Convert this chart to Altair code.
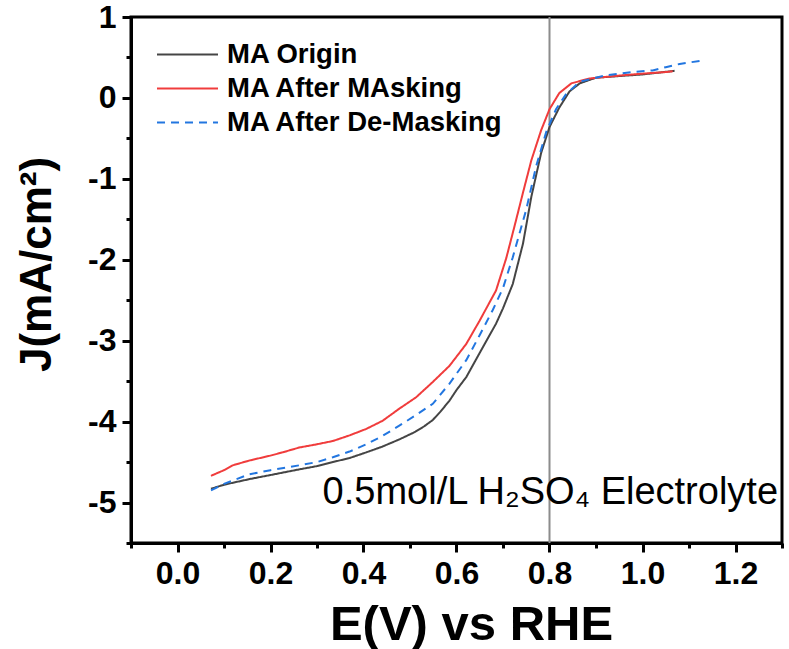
import altair as alt
import pandas as pd

series_names = ["MA Origin", "MA After MAsking", "MA After De-Masking"]
series_colors = ["#454545", "#f03c3c", "#2276e0"]
series_dashes = [[1, 0], [1, 0], [8, 6]]

origin_e = [0.072, 0.10, 0.155, 0.20, 0.262, 0.30, 0.334, 0.37, 0.406, 0.44, 0.477, 0.51, 0.53, 0.549,
            0.565, 0.585, 0.60, 0.621, 0.649, 0.685, 0.70, 0.721, 0.743, 0.761, 0.782, 0.80, 0.821,
            0.843, 0.865, 0.90, 0.95, 1.00, 1.069]
origin_j = [-4.83, -4.78, -4.71, -4.66, -4.59, -4.55, -4.50, -4.45, -4.38, -4.31, -4.22, -4.13, -4.06, -3.98,
            -3.88, -3.74, -3.61, -3.45, -3.16, -2.79, -2.60, -2.30, -1.80, -1.22, -0.68, -0.36, -0.12,
            0.08, 0.18, 0.25, 0.27, 0.29, 0.335]

masking_e = [0.072, 0.10, 0.119, 0.155, 0.20, 0.226, 0.262, 0.30, 0.334, 0.37, 0.406, 0.441, 0.477,
             0.513, 0.549, 0.585, 0.621, 0.649, 0.685, 0.707, 0.725, 0.743, 0.761, 0.782, 0.80,
             0.821, 0.847, 0.886, 0.958, 1.00, 1.051, 1.065]
masking_j = [-4.67, -4.60, -4.54, -4.48, -4.42, -4.38, -4.32, -4.28, -4.24, -4.17, -4.09, -3.99, -3.84,
             -3.70, -3.51, -3.31, -3.04, -2.76, -2.38, -1.98, -1.58, -1.17, -0.77, -0.40, -0.14,
             0.06, 0.18, 0.24, 0.28, 0.30, 0.32, 0.33]

demask_e = [0.072, 0.10, 0.155, 0.20, 0.262, 0.30, 0.334, 0.37, 0.406, 0.44, 0.477, 0.51, 0.549,
            0.585, 0.621, 0.65, 0.678, 0.70, 0.721, 0.75, 0.771, 0.793, 0.814, 0.836, 0.865,
            0.922, 0.979, 1.022, 1.05, 1.08, 1.126]
demask_j = [-4.85, -4.77, -4.65, -4.60, -4.54, -4.50, -4.44, -4.37, -4.28, -4.18, -4.05, -3.93, -3.78,
            -3.53, -3.24, -2.93, -2.62, -2.35, -1.97, -1.38, -0.85, -0.42, -0.14, 0.05, 0.20,
            0.28, 0.32, 0.34, 0.38, 0.42, 0.46]

x_ticks = [-0.1, 0.0, 0.1, 0.2, 0.3, 0.4, 0.5, 0.6, 0.7, 0.8, 0.9, 1.0, 1.1, 1.2, 1.3]
y_ticks = [-5.5, -5.0, -4.5, -4.0, -3.5, -3.0, -2.5, -2.0, -1.5, -1.0, -0.5, 0.0, 0.5, 1.0]

ref_line_e = [0.8]
note_text = ["0.5mol/L H\u2082SO\u2084 Electrolyte"]
note_e = [0.312]
note_j = [-5.02]

rows = []
for name, es, js in [(series_names[0], origin_e, origin_j),
                     (series_names[1], masking_e, masking_j),
                     (series_names[2], demask_e, demask_j)]:
    for e, j in zip(es, js):
        rows.append({"E": e, "J": j, "series": name})
curves = pd.DataFrame(rows)
ref_df = pd.DataFrame({"E": ref_line_e})
note_df = pd.DataFrame({"E": note_e, "J": note_j, "label": note_text})

FONT = "Liberation Sans"

x_enc = alt.X(
    "E:Q",
    scale=alt.Scale(domain=[-0.1, 1.3], nice=False, zero=False),
    axis=alt.Axis(
        title="E(V) vs RHE",
        values=x_ticks,
        labelExpr="abs(round(datum.value*5) - datum.value*5) < 0.01 ? format(datum.value, '.1f') : ''",
        tickSize={"condition": {"test": "abs(round(datum.value*5) - datum.value*5) < 0.01", "value": 9}, "value": 5},
        labelPadding=6,
        titlePadding=11,
        titleFontSize=49,
        titleX=340,
    ),
)
y_enc = alt.Y(
    "J:Q",
    scale=alt.Scale(domain=[-5.5, 1.0], nice=False, zero=False),
    axis=alt.Axis(
        title="J(mA/cm\u00b2)",
        values=y_ticks,
        labelExpr="abs(round(datum.value) - datum.value) < 0.01 ? '' + round(datum.value) : ''",
        tickSize={"condition": {"test": "abs(round(datum.value) - datum.value) < 0.01", "value": 9}, "value": 5},
        labelPadding=6,
        titlePadding=28,
        titleY=247,
    ),
)

legend = alt.Legend(
    title=None,
    orient="none",
    legendX=40,
    legendY=21,
    symbolType="M-2,0H2",
    symbolSize=930,
    symbolStrokeWidth=2,
    labelFont=FONT,
    labelFontSize=27.5,
    labelFontWeight="bold",
    labelColor="black",
    labelLimit=0,
    labelOffset=23,
    rowPadding=4,
    padding=0,
)

rule = alt.Chart(ref_df).mark_rule(color="#8c8c8c", strokeWidth=2).encode(x=x_enc)

lines = alt.Chart(curves).mark_line(strokeWidth=2).encode(
    x=x_enc,
    y=y_enc,
    color=alt.Color("series:N", scale=alt.Scale(domain=series_names, range=series_colors), legend=legend),
    strokeDash=alt.StrokeDash("series:N", scale=alt.Scale(domain=series_names, range=series_dashes), legend=legend),
)

note = alt.Chart(note_df).mark_text(
    align="left", baseline="alphabetic", font=FONT, fontSize=38, color="black"
).encode(x=x_enc, y=y_enc, text="label:N")

chart = alt.layer(rule, lines, note).properties(
    width=651,
    height=526,
    autosize="none",
    padding={"left": 131, "top": 17, "right": 7, "bottom": 106},
).configure_view(
    stroke="black", strokeWidth=3
).configure_axis(
    grid=False,
    domainColor="black",
    domainWidth=3,
    tickColor="black",
    tickWidth=3,
    labelFont=FONT,
    labelFontSize=32,
    labelFontWeight="bold",
    labelColor="black",
    titleFont=FONT,
    titleFontSize=44,
    titleFontWeight="bold",
    titleColor="black",
)

chart.save("out.html", embed_options={"renderer": "svg", "actions": False})
